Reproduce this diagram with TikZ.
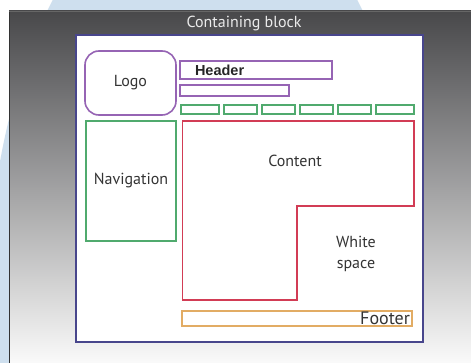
\documentclass[tikz,border=0pt]{standalone}
\usepackage{fontspec}
\setmainfont{PT Sans}
\newfontfamily\cabfont{Liberation Sans}
\usepackage{tikz}
\usetikzlibrary{positioning}
\definecolor{azulFondo}{RGB}{206,223,238}
\definecolor{panelArriba}{RGB}{72,72,74}
\definecolor{panelMedio}{RGB}{192,192,196}
\definecolor{panelAbajo}{RGB}{250,250,250}
\definecolor{marino}{RGB}{72,70,140}
\definecolor{morado}{RGB}{150,100,180}
\definecolor{verde}{RGB}{80,170,110}
\definecolor{rojo}{RGB}{210,60,85}
\definecolor{naranja}{RGB}{226,172,100}
\definecolor{texto}{RGB}{52,52,52}

\begin{document}
\begin{tikzpicture}[
  x=1pt, y=-1pt,
  caja/.style={rectangle, draw, fill=white, line width=1.6pt,
               inner sep=0pt, text=texto, font=\fontsize{16}{19}\selectfont},
  pest/.style={caja, draw=verde, minimum height=9pt},
  etiqueta/.style={text=texto, font=\fontsize{16}{21}\selectfont, align=center}
]
\useasboundingbox (0,0) rectangle (471,363);

% Fondo
\fill[white] (0,0) rectangle (471,363);
\fill[azulFondo] (205,300) ellipse [x radius=217, y radius=421];
\shade[top color=panelArriba, middle color=panelMedio, bottom color=panelAbajo]
  (9,11) rectangle (471,363);
\draw[black!80, line width=1pt] (9.5,11) -- (9.5,363);
\draw[black!60, line width=0.8pt] (9,11.4) -- (471,11.4);

% Bloque contenedor
\node[caja, draw=marino, minimum width=347pt, minimum height=307pt] (bloque) at (249.5,188.5) {};
\node[text=white!92!black, font=\fontsize{16}{19}\selectfont] (titulo) at (244,24) {Containing block};

% Logo y cabecera
\node[caja, draw=morado, rounded corners=14pt, minimum width=91pt, minimum height=64pt] (logo) at (130.5,83) {Logo};
\node[caja, draw=morado, minimum width=152pt, minimum height=18pt,
      text width=122pt, inner xsep=15pt, align=left,
      font=\cabfont\bfseries\fontsize{14.5}{16}\selectfont, text=black!85] (cab) at (256,70) {Header};
\node[caja, draw=morado, minimum width=109pt, minimum height=11pt] (barra) at (234.5,90.5) {};

% Pestanas
\foreach \n/\x/\w in {1/200/38, 2/240.5/33, 3/278.5/33, 4/316.5/33, 5/354.5/33, 6/395/38}
  \node[pest, minimum width=\w pt] (p\n) at (\x,109.5) {};

% Navegacion
\node[caja, draw=verde, minimum width=90pt, minimum height=120pt] (nav) at (131,181) {Navigation};

% Contenido
\draw[rojo, line width=1.6pt, fill=white]
  (182.5,121) -- (414,121) -- (414,206) -- (297,206) -- (297,300) -- (182.5,300) -- cycle;
\node[etiqueta] (contenido) at (295,161) {Content};
\node[etiqueta] (blanco) at (356,254) {White\\space};

% Pie
\node[caja, draw=naranja, minimum width=230pt, minimum height=15pt,
      text width=226pt, inner xsep=2pt, align=right,
      font=\fontsize{18}{19}\selectfont] (pie) at (297,318.5) {Footer};

\end{tikzpicture}
\end{document}
